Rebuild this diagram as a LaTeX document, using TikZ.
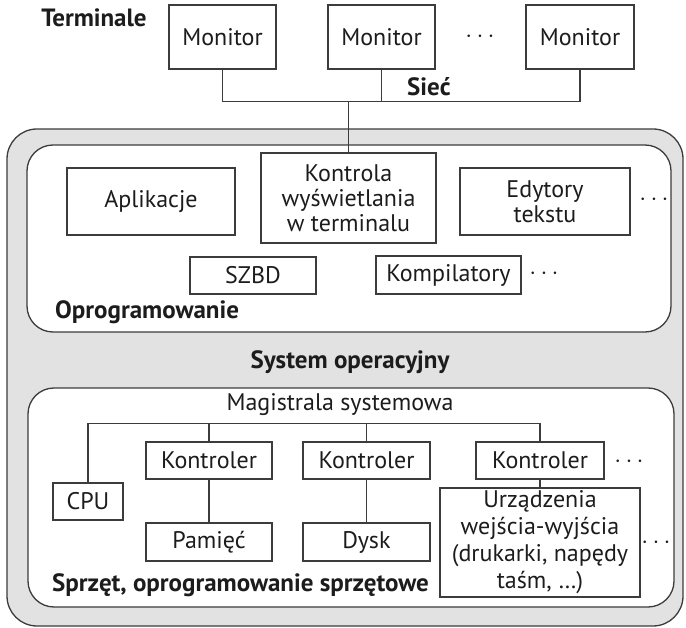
\documentclass[tikz,border=0pt]{standalone}
\usepackage{fontspec}
\setmainfont{PT Sans}
\usepackage{tikz}
\usetikzlibrary{positioning}
\definecolor{lineGray}{RGB}{60,60,60}
\definecolor{osGray}{RGB}{226,226,226}
\definecolor{textDark}{RGB}{28,28,28}
\tikzset{
  unitbox/.style={
    rectangle, draw=lineGray, line width=1.3pt, fill=white,
    text=textDark, align=center, inner sep=1pt
  },
  layerbox/.style={rounded corners=26pt, draw=lineGray, line width=1.3pt, fill=white},
  link/.style={draw=lineGray, line width=1.3pt}
}

\begin{document}
\begin{tikzpicture}[x=1pt, y=-1pt,
          every node/.style={font=\fontsize{24}{25}\selectfont},
          box/.style={unitbox},
          caption/.style={font=\fontsize{25}{26}\selectfont\bfseries, text=textDark, inner sep=0pt},
          more/.style={text=textDark, inner sep=0pt}]
        \useasboundingbox (0,0) rectangle (686,628);
        \draw[layerbox, fill=osGray, rounded corners=30pt] (7,129) rectangle (683,626);
        \draw[layerbox] (27,145) rectangle (671,332);
        \draw[layerbox] (28,388) rectangle (674,607);
        \node[caption]                                           (term)  at (94,18)    {Terminale};
        \node[box, minimum width=107pt, minimum height=64pt]     (mon1)  at (222.5,37) {Monitor};
        \node[box, minimum width=107pt, minimum height=64pt]     (mon2)  at (381.5,37) {Monitor};
        \node[box, minimum width=108pt, minimum height=64pt]     (mon3)  at (580,37)   {Monitor};
        \node[more]                                              (mdots) at (480,37)   {$\cdots$};
        \node[caption, anchor=west]                              (siec)  at (407,87)   {Sieć};
        \node[box, minimum width=175pt, minimum height=90pt]     (ktrl)  at (348.5,198) {Kontrola\\wyświetlania\\w terminalu};
        \node[box, minimum width=168pt, minimum height=67pt]     (apl)   at (151,201.5) {Aplikacje};
        \node[box, minimum width=170pt, minimum height=67pt]     (edyt)  at (545,201.5) {Edytory\\tekstu};
        \node[more]                                              (edots) at (654,200)  {$\cdots$};
        \node[box, minimum width=126pt, minimum height=37pt]     (szbd)  at (253,275.5) {SZBD};
        \node[box, minimum width=145pt, minimum height=38pt]     (komp)  at (448.5,275) {Kompilatory};
        \node[more]                                              (kdots) at (544,274)  {$\cdots$};
        \node[caption, anchor=west]                              (oprog) at (55,312)   {Oprogramowanie};
        \node[caption]                                           (os)    at (350,362)  {System operacyjny};
        \node[more]                                              (mag)   at (340,405)  {Magistrala systemowa};
        \node[box, minimum width=70pt,  minimum height=37pt]     (cpu)   at (88,501.5) {CPU};
        \node[box, minimum width=126pt, minimum height=37pt]     (k1)    at (209,460.5) {Kontroler};
        \node[box, minimum width=127pt, minimum height=37pt]     (k2)    at (366.5,460.5) {Kontroler};
        \node[box, minimum width=128pt, minimum height=37pt]     (k3)    at (540,460.5) {Kontroler};
        \node[more]                                              (k3dots) at (629,462) {$\cdots$};
        \node[box, minimum width=126pt, minimum height=38pt]     (pam)   at (209,542)  {Pamięć};
        \node[box, minimum width=127pt, minimum height=38pt]     (dysk)  at (366.5,542) {Dysk};
        \node[box, minimum width=200pt, minimum height=109pt,
              font=\fontsize{24}{27}\selectfont]                 (io)    at (540,542.5) {Urządzenia\\wejścia-wyjścia\\(drukarki, napędy\\taśm, \dots)};
        \node[more]                                              (iodots) at (656,543) {$\cdots$};
        \node[caption, anchor=west]                              (hw)    at (52,585)   {Sprzęt, oprogramowanie sprzętowe};
        \path (ktrl.north) ++(0,-51) coordinate (net);
        \path (cpu.north)  ++(0,-59) coordinate (bus);
        \draw[link] (mon1.south) |- (net) -| (mon3.south);
        \draw[link] (mon2.south) -- (mon2.south |- net);
        \draw[link] (net) -- (ktrl.north);
        \draw[link] (cpu.north) -- (bus) -| (k3.north);
        \draw[link] (k1.north) -- (k1.north |- bus);
        \draw[link] (k2.north) -- (k2.north |- bus);
        \draw[link] (k1) -- (pam);
        \draw[link] (k2) -- (dysk);
        \draw[link] (k3) -- (io);
      \end{tikzpicture}
\end{document}
